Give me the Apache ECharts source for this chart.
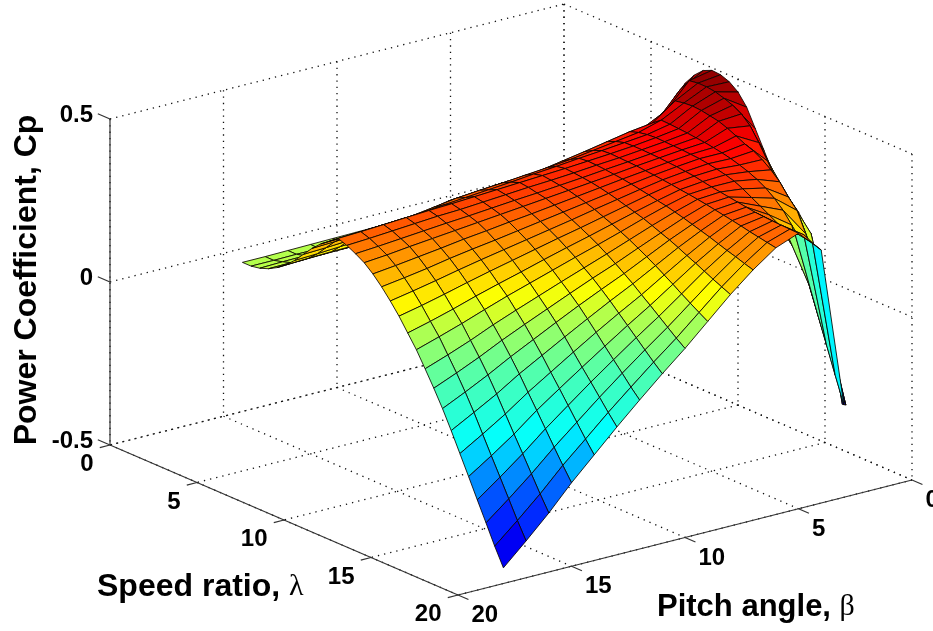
<!DOCTYPE html>
<html>
<head>
<meta charset="utf-8">
<script src="https://cdn.jsdelivr.net/npm/echarts@6/dist/echarts.min.js"></script>
<style>html,body{margin:0;padding:0;background:#fff}#c{width:933px;height:631px}</style>
</head>
<body>
<div id="c"></div>
<script>
// ---- data ----
const lambdaTicks = [0, 5, 10, 15, 20];
const betaTicks = [0, 5, 10, 15, 20];
const cpTicks = [-0.5, 0, 0.5];
const cpTickLabels = ['-0.5', '0', '0.5'];
const xTitle = 'Speed ratio, ';
const yTitle = 'Pitch angle, ';
const zTitle = 'Power Coefficient, Cp';
const lambdaValues = [5,5.5,6,6.5,7,7.5,8,8.5,9,9.5,10,10.5,11,11.5,12,12.5,13,13.5,14,14.5,15,15.5,16,16.5,17,17.5,18,18.5,19,19.5,20];
const betaValues = [0,1,2,3,4,5,6,7,8,9,10,11,12,13,14,15,16,17,18];
// one row per lambda value, one column per beta value
const cpRows = [
[.2,.2,.19,.18,.17,.165,.16,.155,.152,.15,.148,.146,.145,.144,.143,.142,.141,.14,.14],
[.265,.22,.22,.2,.165,.16,.155,.152,.15,.148,.146,.145,.144,.143,.142,.141,.141,.14,.14],
[.325,.25,.245,.22,.18,.175,.17,.165,.16,.157,.155,.153,.152,.151,.15,.149,.148,.147,.145],
[.375,.28,.27,.25,.21,.2,.19,.18,.175,.172,.17,.168,.166,.164,.162,.16,.158,.156,.155],
[.42,.329,.3,.28,.24,.23,.22,.21,.2,.192,.188,.185,.182,.18,.178,.176,.175,.173,.17],
[.455,.386,.33,.31,.285,.27,.258,.247,.235,.225,.218,.212,.207,.203,.2,.196,.195,.193,.19],
[.48,.44,.365,.34,.33,.31,.295,.283,.272,.263,.255,.25,.245,.233,.23,.226,.222,.218,.215],
[.492,.478,.405,.37,.36,.345,.33,.318,.305,.298,.29,.285,.28,.265,.26,.256,.252,.248,.245],
[.49,.482,.445,.395,.386,.373,.36,.348,.336,.33,.326,.32,.314,.3,.29,.286,.282,.278,.275],
[.48,.482,.45,.415,.395,.385,.375,.365,.358,.352,.346,.341,.335,.325,.315,.311,.307,.303,.3],
[.46,.478,.452,.414,.4,.393,.386,.38,.373,.367,.36,.354,.348,.342,.335,.331,.327,.323,.32],
[.425,.47,.45,.412,.402,.394,.388,.383,.378,.374,.37,.366,.362,.358,.355,.351,.347,.343,.34],
[.37,.46,.445,.41,.401,.394,.387,.382,.376,.371,.367,.362,.357,.352,.349,.344,.339,.334,.33],
[.315,.445,.44,.407,.4,.393,.386,.38,.373,.367,.361,.356,.35,.344,.339,.333,.327,.321,.316],
[.26,.42,.43,.404,.399,.392,.385,.377,.37,.363,.356,.349,.342,.335,.328,.321,.314,.306,.3],
[.225,.38,.418,.4,.397,.39,.382,.374,.365,.356,.347,.338,.33,.321,.313,.303,.294,.285,.277],
[.198,.335,.405,.395,.395,.388,.38,.37,.359,.348,.337,.326,.315,.304,.294,.283,.27,.259,.249],
[.17,.29,.395,.389,.391,.385,.377,.365,.352,.339,.325,.312,.299,.286,.273,.259,.244,.23,.217],
[.13,.255,.38,.381,.386,.382,.374,.36,.344,.328,.312,.297,.281,.265,.249,.232,.214,.197,.182],
[.06,.225,.36,.372,.38,.377,.37,.354,.336,.317,.298,.28,.261,.241,.222,.202,.18,.16,.142],
[-.03,.19,.335,.36,.372,.372,.367,.349,.328,.305,.283,.262,.24,.218,.196,.172,.147,.124,.102],
[-.21,.17,.3,.345,.36,.368,.363,.342,.318,.292,.266,.241,.216,.19,.164,.137,.107,.08,.055],
[-.36,.07,.27,.325,.345,.364,.359,.335,.307,.278,.248,.221,.192,.162,.132,.101,.067,.036,.007],
[null,-.087,.21,.3,.33,.36,.354,.327,.297,.263,.229,.198,.166,.132,.097,.062,.024,-.011,-.044],
[null,-.214,.13,.266,.315,.356,.349,.319,.285,.247,.209,.174,.137,.099,.06,.021,-.023,-.062,-.1],
[null,-.31,0,.176,.3,.352,.344,.311,.272,.23,.187,.148,.107,.064,.02,-.024,-.073,-.117,-.159],
[null,null,-.143,.105,.285,.35,.339,.302,.26,.213,.166,.122,.076,.029,-.019,-.068,-.123,-.172,-.218],
[null,null,-.223,.025,.29,.348,.333,.293,.247,.195,.144,.096,.046,-.005,-.059,-.113,-.172,-.226,-.278],
[null,null,null,-.056,.3,.347,.328,.285,.234,.178,.122,.07,.016,-.04,-.099,-.158,-.222,-.281,-.337],
[null,null,null,-.137,.286,.346,.323,.276,.222,.161,.1,.044,-.015,-.075,-.139,-.202,-.272,-.336,-.397],
[null,null,null,-.217,.276,.345,.318,.268,.21,.145,.08,.02,-.043,-.108,-.176,-.244,-.319,-.387,-.452]
];

// ---- view: orthographic projection of (lambda, beta, cp) on the page plane ----
const view = {x0:110, y0:445, lx:17.4, ly:7.5, bx:22.7, by:-5.75, zy:326};
function project(l, b, z) {
  const d = 20 - b;
  return [view.x0 + view.lx*l + view.bx*d,
          view.y0 + view.ly*l + view.by*d - view.zy*(z + 0.5)];
}
function depth(l, b, z) { return 21.4*l + 16.4*b + 114*z; }

// ---- jet colour map with the picture's cp -> level stops ----
const cpLevels = [[-.6,0],[-.41,.1],[-.25,.23],[-.13,.375],[.03,.46],[.14,.55],[.2,.625],[.32,.75],[.4,.875],[.5,1]];
function level(z) {
  if (z <= cpLevels[0][0]) return 0;
  for (let i = 1; i < cpLevels.length; i++) {
    if (z <= cpLevels[i][0]) {
      const a = cpLevels[i-1], c = cpLevels[i];
      return a[1] + (c[1]-a[1])*(z-a[0])/(c[0]-a[0]);
    }
  }
  return 1;
}
function jet(t) {
  const f = v => Math.round(255*Math.max(0, Math.min(1, v)));
  return 'rgb(' + f(1.5-Math.abs(4*t-3)) + ',' + f(1.5-Math.abs(4*t-2)) + ',' + f(1.5-Math.abs(4*t-1)) + ')';
}

// ---- build cells from the table ----
const cells = [];
function addCell(corners) {
  let m = [0,0,0], lo = Infinity, hi = -Infinity;
  corners.forEach(c => { m[0]+=c[0]; m[1]+=c[1]; m[2]+=c[2]; lo = Math.min(lo,c[2]); hi = Math.max(hi,c[2]); });
  m = m.map(v => v/corners.length);
  // long cells on the steep ribbon take the colour of their first corner
  const zc = (hi - lo > 0.2) ? corners[0][2] : m[2];
  cells.push({corners, fill: jet(level(zc)), d: depth(m[0],m[1],m[2])});
}
const node = (i,j) => [lambdaValues[i], betaValues[j], cpRows[i][j]];
const lastValid = j => { let k = lambdaValues.length-1; while (cpRows[k][j] === null) k--; return k; };
for (let j = 0; j < betaValues.length-1; j++) {
  const a = lastValid(j), c = lastValid(j+1), common = Math.min(a,c);
  for (let i = 0; i < common; i++) addCell([node(i,j),node(i+1,j),node(i+1,j+1),node(i,j+1)]);
  if (c > a) {           // the thin ribbon that closes on the far tip
    const poly = [node(common,j)];
    for (let i = c; i >= common; i--) poly.push(node(i,j+1));
    addCell(poly);
  } else if (a > c) {
    const poly = [node(common,j+1)];
    for (let i = c; i <= a; i++) poly.push(node(i,j));
    addCell(poly);
  }
}
cells.sort((p,q) => p.d - q.d);

// ---- box, grid lines and ticks ----
const gridSegs = [], axisSegs = [];
const seg = (list,a,b) => list.push([a,b]);
lambdaTicks.forEach(l => {
  seg(gridSegs,[l,0,.5],[l,0,-.5]);
  seg(gridSegs,[l,0,-.5],[l,20,-.5]);
});
betaTicks.forEach(b => {
  seg(gridSegs,[0,b,.5],[0,b,-.5]);
  seg(gridSegs,[0,b,-.5],[20,b,-.5]);
});
cpTicks.forEach(z => {
  seg(gridSegs,[0,20,z],[0,0,z]);
  seg(gridSegs,[0,0,z],[20,0,z]);
});
seg(axisSegs,[0,20,-.5],[0,20,.5]);
seg(axisSegs,[0,20,-.5],[20,20,-.5]);
seg(axisSegs,[20,20,-.5],[20,0,-.5]);
cpTicks.forEach(z => seg(axisSegs,[0,20,z],[-.7,20,z]));
lambdaTicks.forEach(l => seg(axisSegs,[l,20,-.5],[l,20.45,-.5]));
betaTicks.forEach(b => seg(axisSegs,[20,b,-.5],[20.6,b,-.5]));

const sF = 'Liberation Sans';
const tickFont = 'bold 24px "'+sF+'"';
const labels = [];
cpTicks.forEach((z,i) => labels.push({p:[0,20,z], dx:-17, dy:-4, t:cpTickLabels[i], align:'right'}));
lambdaTicks.forEach(l => labels.push({p:[l,20,-.5], dx:-16.5, dy:19.5, t:String(l), align:'right'}));
betaTicks.forEach(b => labels.push({p:[20,b,-.5], dx:13.5, dy:20.5, t:String(b), align:'left'}));

function lineItem(list, api, i, style) {
  const s = list[i];
  const a = api.coord(project(s[0][0],s[0][1],s[0][2]));
  const b = api.coord(project(s[1][0],s[1][1],s[1][2]));
  return {type:'line', shape:{x1:a[0],y1:a[1],x2:b[0],y2:b[1]}, style};
}

const chart = echarts.init(document.getElementById('c'));
chart.setOption({
  animation:false,
  backgroundColor:'#fff',
  grid:{left:0,right:0,top:0,bottom:0},
  xAxis:{type:'value',min:0,max:933,show:false},
  yAxis:{type:'value',min:0,max:631,inverse:true,show:false},
  series:[
    {type:'custom',silent:true,clip:false,progressive:0,z:1,
     data:gridSegs.map((s,i)=>[i]),
     renderItem:(p,api)=>lineItem(gridSegs,api,p.dataIndex,{stroke:'#111',lineWidth:1.3,lineDash:[1.3,5]})},
    {type:'custom',silent:true,clip:false,progressive:0,z:2,
     data:axisSegs.map((s,i)=>[i]),
     renderItem:(p,api)=>lineItem(axisSegs,api,p.dataIndex,{stroke:'#333',lineWidth:1.2})},
    {type:'custom',silent:true,clip:false,progressive:0,z:3,
     data:cells.map((c,i)=>[i]),
     renderItem:(p,api)=>{
       const c = cells[p.dataIndex];
       return {type:'polygon',
         shape:{points:c.corners.map(n=>api.coord(project(n[0],n[1],n[2])))},
         style:{fill:c.fill,stroke:'rgba(10,5,0,0.85)',lineWidth:1,lineJoin:'round'}};
     }},
    {type:'custom',silent:true,clip:false,progressive:0,z:4,
     data:labels.map((l,i)=>[i]),
     renderItem:(p,api)=>{
       const l = labels[p.dataIndex];
       const a = api.coord(project(l.p[0],l.p[1],l.p[2]));
       return {type:'text',x:a[0]+l.dx,y:a[1]+l.dy,
         style:{text:l.t,font:tickFont,fill:'#000',textAlign:l.align,textVerticalAlign:'middle'}};
     }}
  ],
  graphic:[
    {type:'text',x:27,y:280,rotation:Math.PI/2,z:10,silent:true,
     style:{text:zTitle,font:'bold 32px "'+sF+'"',fill:'#000',textAlign:'center',textVerticalAlign:'middle'}},
    {type:'text',x:97,y:587,z:10,silent:true,
     style:{text:'{a|'+xTitle+'}{b|λ}',textVerticalAlign:'middle',
       rich:{a:{font:'bold 32px "'+sF+'"',fill:'#000'},b:{font:'30px "Liberation Serif"',fill:'#000'}}}},
    {type:'text',x:657,y:607,z:10,silent:true,
     style:{text:'{a|'+yTitle+'}{b|β}',textVerticalAlign:'middle',
       rich:{a:{font:'bold 31px "'+sF+'"',fill:'#000'},b:{font:'30px "Liberation Serif"',fill:'#000'}}}}
  ]
});
</script>
</body>
</html>
